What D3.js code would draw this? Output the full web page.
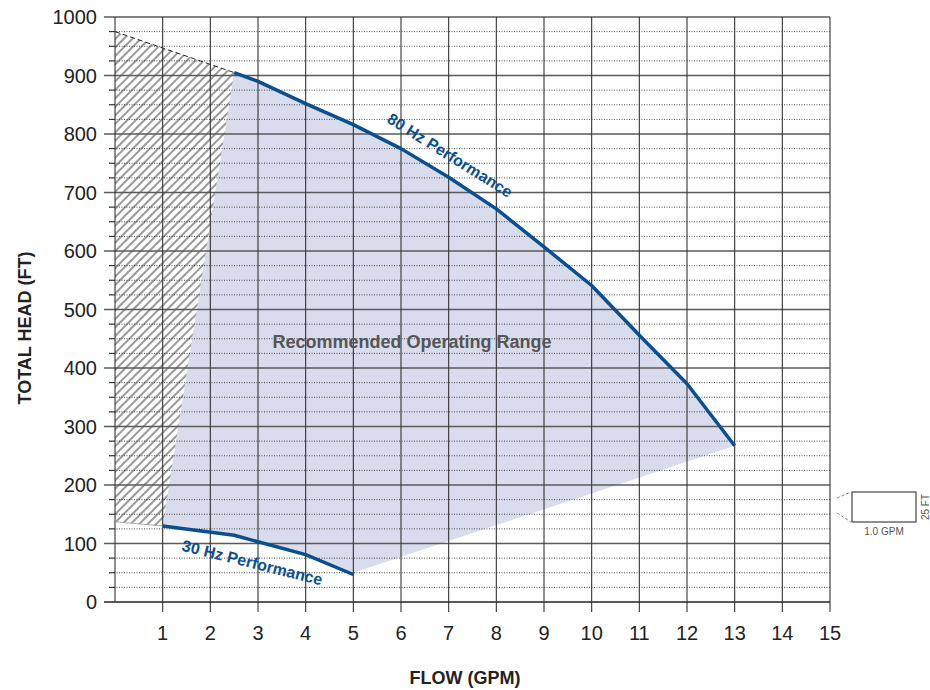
<!DOCTYPE html>
<html>
<head>
<meta charset="utf-8">
<script src="https://cdn.jsdelivr.net/npm/d3@7"></script>
<style>
  body { margin: 0; background: #fff; }
  text { font-family: "Liberation Sans", Arial, Helvetica, sans-serif; }
</style>
</head>
<body>
<div id="chart"></div>
<script>
// data
const hz80Flow = [2.5, 3, 4, 5, 6, 7, 8, 9, 10, 11, 12, 13];
const hz80Head = [905, 890, 852, 816, 775, 726, 672, 607, 541, 456, 373, 267];
const hz30Flow = [1, 2.5, 3, 4, 5];
const hz30Head = [130, 114, 103, 81, 47];
const hatchTopFlow = [0, 2.5];
const hatchTopHead = [975, 905];
const hatchBottomFlow = [0, 1];
const hatchBottomHead = [137, 130];
const xTicks = [1, 2, 3, 4, 5, 6, 7, 8, 9, 10, 11, 12, 13, 14, 15];
const yTicks = [0, 100, 200, 300, 400, 500, 600, 700, 800, 900, 1000];

const W = 930, H = 690;
const svg = d3.select("#chart").append("svg")
    .attr("width", W)
    .attr("height", H);

const x = d3.scaleLinear().domain([0, 15]).range([115, 830]);
const y = d3.scaleLinear().domain([0, 1000]).range([602, 17]);

const blue = "#0b4f8f";

const hz80 = hz80Flow.map((f, i) => [f, hz80Head[i]]);
const hz30 = hz30Flow.map((f, i) => [f, hz30Head[i]]);
const line = d3.line().x(d => x(d[0])).y(d => y(d[1]));

// hatch pattern (lines rising to the right)
const defs = svg.append("defs");
const pat = defs.append("pattern")
    .attr("id", "hatch")
    .attr("patternUnits", "userSpaceOnUse")
    .attr("width", 6)
    .attr("height", 6)
    .attr("patternTransform", "rotate(45)");
pat.append("line")
    .attr("x1", 1).attr("y1", -1)
    .attr("x2", 1).attr("y2", 7)
    .attr("stroke", "#111")
    .attr("stroke-width", 0.85);

// recommended range: 80 Hz curve, down to end of 30 Hz, back along 30 Hz
const rangePts = hz80.concat([[hz30Flow[hz30Flow.length - 1], 50]])
    .concat(hz30.slice().reverse().slice(1));
svg.append("path")
    .attr("d", line(rangePts) + "Z")
    .attr("fill", "#d9dcec");

// hatched (not recommended) zone
const hatchPts = [
    [hatchTopFlow[0], hatchTopHead[0]],
    [hatchTopFlow[1], hatchTopHead[1]],
    [hz30Flow[0], hz30Head[0]],
    [hatchBottomFlow[0], hatchBottomHead[0]]
];
svg.append("path")
    .attr("d", line(hatchPts) + "Z")
    .attr("fill", "url(#hatch)");

// minor grid (25 ft, dotted)
const minor = d3.range(25, 1000, 25).filter(v => v % 100 !== 0);
svg.append("g").selectAll("line")
    .data(minor)
    .enter()
    .append("line")
    .attr("x1", 109).attr("x2", x(15))
    .attr("y1", d => y(d)).attr("y2", d => y(d))
    .attr("stroke", "#222")
    .attr("stroke-width", 0.8)
    .attr("stroke-dasharray", "1,1.5");
// minor ticks solid part
svg.append("g").selectAll("line")
    .data(minor)
    .enter()
    .append("line")
    .attr("x1", 109).attr("x2", 115)
    .attr("y1", d => y(d)).attr("y2", d => y(d))
    .attr("stroke", "#222");

// major horizontal grid
svg.append("g").selectAll("line")
    .data(yTicks)
    .enter()
    .append("line")
    .attr("x1", 104).attr("x2", x(15))
    .attr("y1", d => y(d)).attr("y2", d => y(d))
    .attr("stroke", d => d === 0 ? "#222" : "#5a5a5a")
    .attr("stroke-width", 1.4);

// vertical grid
svg.append("g").selectAll("line")
    .data([0].concat(xTicks))
    .enter()
    .append("line")
    .attr("x1", d => x(d)).attr("x2", d => x(d))
    .attr("y1", y(1000)).attr("y2", d => d === 0 ? y(0) : y(0) + 10)
    .attr("stroke", "#333")
    .attr("stroke-width", 1.1);

// hatch edges
svg.append("path")
    .attr("d", line(hatchTopFlow.map((f, i) => [f, hatchTopHead[i]])))
    .attr("fill", "none")
    .attr("stroke", "#222")
    .attr("stroke-width", 1)
    .attr("stroke-dasharray", "5,3");
svg.append("path")
    .attr("d", line(hatchBottomFlow.map((f, i) => [f, hatchBottomHead[i]])))
    .attr("fill", "none")
    .attr("stroke", "#999")
    .attr("stroke-width", 0.8);

// performance curves
[hz80, hz30].forEach(pts => {
    svg.append("path")
        .attr("d", line(pts))
        .attr("fill", "none")
        .attr("stroke", blue)
        .attr("stroke-width", 3.5)
        .attr("stroke-linejoin", "round");
});

// curve labels
svg.append("text")
    .attr("transform", "translate(447,160) rotate(32)")
    .attr("text-anchor", "middle")
    .attr("fill", blue)
    .style("font-size", "16px")
    .style("font-weight", "bold")
    .text("80 Hz Performance");

svg.append("text")
    .attr("transform", "translate(251,568) rotate(14)")
    .attr("text-anchor", "middle")
    .attr("fill", blue)
    .style("font-size", "16px")
    .style("font-weight", "bold")
    .text("30 Hz Performance");

svg.append("text")
    .attr("x", 412)
    .attr("y", 348)
    .attr("text-anchor", "middle")
    .attr("fill", "#555")
    .style("font-size", "18px")
    .style("font-weight", "bold")
    .text("Recommended Operating Range");

// tick labels
svg.append("g").selectAll("text")
    .data(yTicks)
    .enter()
    .append("text")
    .attr("x", 97)
    .attr("y", d => y(d) + 7)
    .attr("text-anchor", "end")
    .attr("fill", "#222")
    .style("font-size", "20px")
    .text(d => d);

svg.append("g").selectAll("text")
    .data(xTicks)
    .enter()
    .append("text")
    .attr("x", d => x(d))
    .attr("y", 640)
    .attr("text-anchor", "middle")
    .attr("fill", "#222")
    .style("font-size", "20px")
    .text(d => d);

// axis titles
svg.append("text")
    .attr("x", 465)
    .attr("y", 684)
    .attr("text-anchor", "middle")
    .attr("fill", "#222")
    .style("font-size", "18px")
    .style("font-weight", "bold")
    .text("FLOW (GPM)");

svg.append("text")
    .attr("transform", "translate(31,328) rotate(-90)")
    .attr("text-anchor", "middle")
    .attr("fill", "#222")
    .style("font-size", "18px")
    .style("font-weight", "bold")
    .text("TOTAL HEAD (FT)");

// grid-cell key on the right
const key = svg.append("g");
key.append("rect")
    .attr("x", 852).attr("y", 492)
    .attr("width", 64).attr("height", 30)
    .attr("fill", "#fff")
    .attr("stroke", "#444")
    .attr("stroke-width", 1.2);
key.append("line")
    .attr("x1", 837).attr("y1", 498).attr("x2", 851).attr("y2", 492)
    .attr("stroke", "#888").attr("stroke-dasharray", "3,2");
key.append("line")
    .attr("x1", 837).attr("y1", 513).attr("x2", 851).attr("y2", 522)
    .attr("stroke", "#888").attr("stroke-dasharray", "3,2");
key.append("text")
    .attr("x", 884).attr("y", 535)
    .attr("text-anchor", "middle")
    .attr("fill", "#555")
    .style("font-size", "10px")
    .text("1.0 GPM");
key.append("text")
    .attr("transform", "translate(929,507) rotate(-90)")
    .attr("text-anchor", "middle")
    .attr("fill", "#555")
    .style("font-size", "10px")
    .text("25 FT");
</script>
</body>
</html>
